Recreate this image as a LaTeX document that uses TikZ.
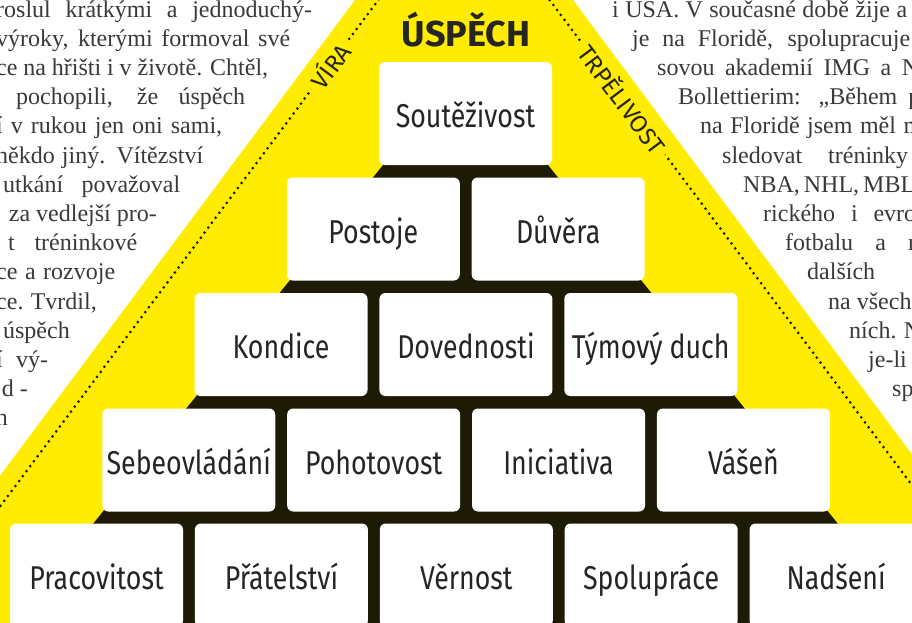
\documentclass[tikz,border=0pt]{standalone}
\usepackage{fontspec}
\setmainfont{Liberation Serif}
\newfontfamily\brickfont[FakeStretch=0.81]{Fira Sans}
\newfontfamily\labelfont{Fira Sans}
\usepackage{xcolor}
\definecolor{pyrYellow}{HTML}{FFEC00}
\definecolor{pyrDark}{HTML}{1D1A05}
\definecolor{pyrText}{HTML}{262522}
\definecolor{bodyGray}{HTML}{3A3936}
\usetikzlibrary{positioning}
\tikzset{
    brick/.style={
        fill=white,
        rectangle,
        rounded corners=6pt,
        minimum width=173pt,
        minimum height=103pt,
        inner sep=0pt,
        text height=28pt,
        text depth=0pt,
        text=pyrText,
        font=\brickfont\fontsize{33}{33}\selectfont
    },
    edgelabel/.style={
        fill=pyrYellow,
        inner xsep=6pt,
        inner ysep=2pt,
        sloped,
        text=pyrText,
        font=\labelfont\fontsize{24}{24}\selectfont
    },
    titlelabel/.style={
        inner sep=0pt,
        text=pyrText,
        font=\labelfont\bfseries\fontsize{36}{36}\selectfont
    },
    dots/.style={
        pyrDark,
        line width=3pt,
        line cap=round,
        dash pattern=on 0pt off 6.2pt
    },
    body/.style={
        inner sep=0pt,
        text=bodyGray,
        font=\fontsize{24}{24}\selectfont
    }
}

\begin{document}
\begin{tikzpicture}[x=1pt, y=-1pt]
    \useasboundingbox (0,0) rectangle (912,622);
    \clip (0,0) rectangle (912,622);

    % Article text, left column
    \node[body, anchor=base west] (left1) at (-4,17) {\makebox[316pt][s]{roslul krátkými a jednoduchý-}};
    \node[body, anchor=base west] (left2) at (-4,46.2) {\makebox[294pt][s]{výroky, kterými formoval své}};
    \node[body, anchor=base west] (left3) at (-4,75.4) {\makebox[272pt][s]{ce na hřišti i v životě. Chtěl,}};
    \node[body, anchor=base west] (left4) at (16,104.6) {\makebox[229pt][s]{pochopili, že úspěch}};
    \node[body, anchor=base west] (left5) at (-4,133.8) {\makebox[226pt][s]{í v rukou jen oni sami,}};
    \node[body, anchor=base west] (left6) at (-4,163) {\makebox[207pt][s]{někdo jiný. Vítězství}};
    \node[body, anchor=base west] (left7) at (3,192.2) {\makebox[177pt][s]{utkání považoval}};
    \node[body, anchor=base east] (left8) at (157,221.4) {za vedlejší pro-};
    \node[body, anchor=base west] (left9) at (8,250.6) {\makebox[129pt][s]{t tréninkové}};
    \node[body, anchor=base west] (left10) at (-4,279.8) {\makebox[119pt][s]{ce a rozvoje}};
    \node[body, anchor=base west] (left11) at (-4,309) {\makebox[94pt][s]{ce. Tvrdil,}};
    \node[body, anchor=base east] (left12) at (70,338.2) {úspěch};
    \node[body, anchor=base west] (left13) at (-4,367.4) {\makebox[52pt][s]{í vý-}};
    \node[body, anchor=base east] (left14) at (28,396.6) {d -};
    \node[body, anchor=base east] (left15) at (8,425.8) {n};

    % Article text, right column
    \node[body, anchor=base west] (right1) at (612,17) {\makebox[295pt][s]{i USA. V současné době žije a}};
    \node[body, anchor=base west] (right2) at (632,46.2) {\makebox[278pt][s]{je na Floridě, spolupracuje}};
    \node[body, anchor=base west] (right3) at (657,75.4) {\makebox[262pt][s]{sovou akademií IMG a N}};
    \node[body, anchor=base west] (right4) at (678,104.6) {\makebox[242pt][s]{Bollettierim: „Během p}};
    \node[body, anchor=base west] (right5) at (700,133.8) {\makebox[222pt][s]{na Floridě jsem měl m}};
    \node[body, anchor=base west] (right6) at (722,163) {sledovat\hspace{26pt}tréninky};
    \node[body, anchor=base west] (right7) at (743,192.2) {\makebox[170pt][s]{NBA, NHL, MBL,}};
    \node[body, anchor=base west] (right8) at (763,221.4) {\makebox[165pt][s]{rického i evrop}};
    \node[body, anchor=base west] (right9) at (785,250.6) {\makebox[135pt][s]{fotbalu a n}};
    \node[body, anchor=base west] (right10) at (807,279.8) {dalších};
    \node[body, anchor=base west] (right11) at (828,309) {na všech};
    \node[body, anchor=base west] (right12) at (849,338.2) {\makebox[72pt][s]{ních. N}};
    \node[body, anchor=base west] (right13) at (868,367.4) {je-li};
    \node[body, anchor=base west] (right14) at (892,396.6) {sp};

    % Yellow pyramid and dark core
    \fill[pyrYellow] (464,-146) -- (1058,650) -- (-130,650) -- cycle;
    \fill[pyrDark] (465.5,63) -- (940,650) -- (-9,650) -- cycle;

    % Dotted edges with their labels
    \coordinate (viraLow) at (-107,650);
    \coordinate (viraTop) at (382,-5);
    \coordinate (trpTop) at (546,-5);
    \coordinate (trpLow) at (1035,650);
    \draw[dots] (viraLow) -- node[edgelabel, pos=0.893] (vira) {VÍRA} (viraTop);
    \draw[dots] (trpTop) -- node[edgelabel, pos=0.158] (trpelivost) {TRPĚLIVOST} (trpLow);

    % Top of the pyramid
    \node[titlelabel] (uspech) at (466,30) {ÚSPĚCH};

    % Bricks, from the top row down
    \node[brick] (soutezivost) at (465.5,113.5) {Soutěživost};

    \node[brick] (postoje) at (373.25,229) {Postoje};
    \node[brick, right=11.5pt of postoje] (duvera) {Důvěra};

    \node[brick] (kondice) at (281,344.5) {Kondice};
    \node[brick, right=11.5pt of kondice] (dovednosti) {Dovednosti};
    \node[brick, right=11.5pt of dovednosti] (tymovy) {Týmový duch};

    \node[brick] (sebeovladani) at (188.75,460) {Sebeovládání};
    \node[brick, right=11.5pt of sebeovladani] (pohotovost) {Pohotovost};
    \node[brick, right=11.5pt of pohotovost] (iniciativa) {Iniciativa};
    \node[brick, right=11.5pt of iniciativa] (vasen) {Vášeň};

    \node[brick] (pracovitost) at (96.5,575) {Pracovitost};
    \node[brick, right=11.5pt of pracovitost] (pratelstvi) {Přátelství};
    \node[brick, right=11.5pt of pratelstvi] (vernost) {Věrnost};
    \node[brick, right=11.5pt of vernost] (spoluprace) {Spolupráce};
    \node[brick, right=11.5pt of spoluprace] (nadseni) {Nadšení};
\end{tikzpicture}
\end{document}
